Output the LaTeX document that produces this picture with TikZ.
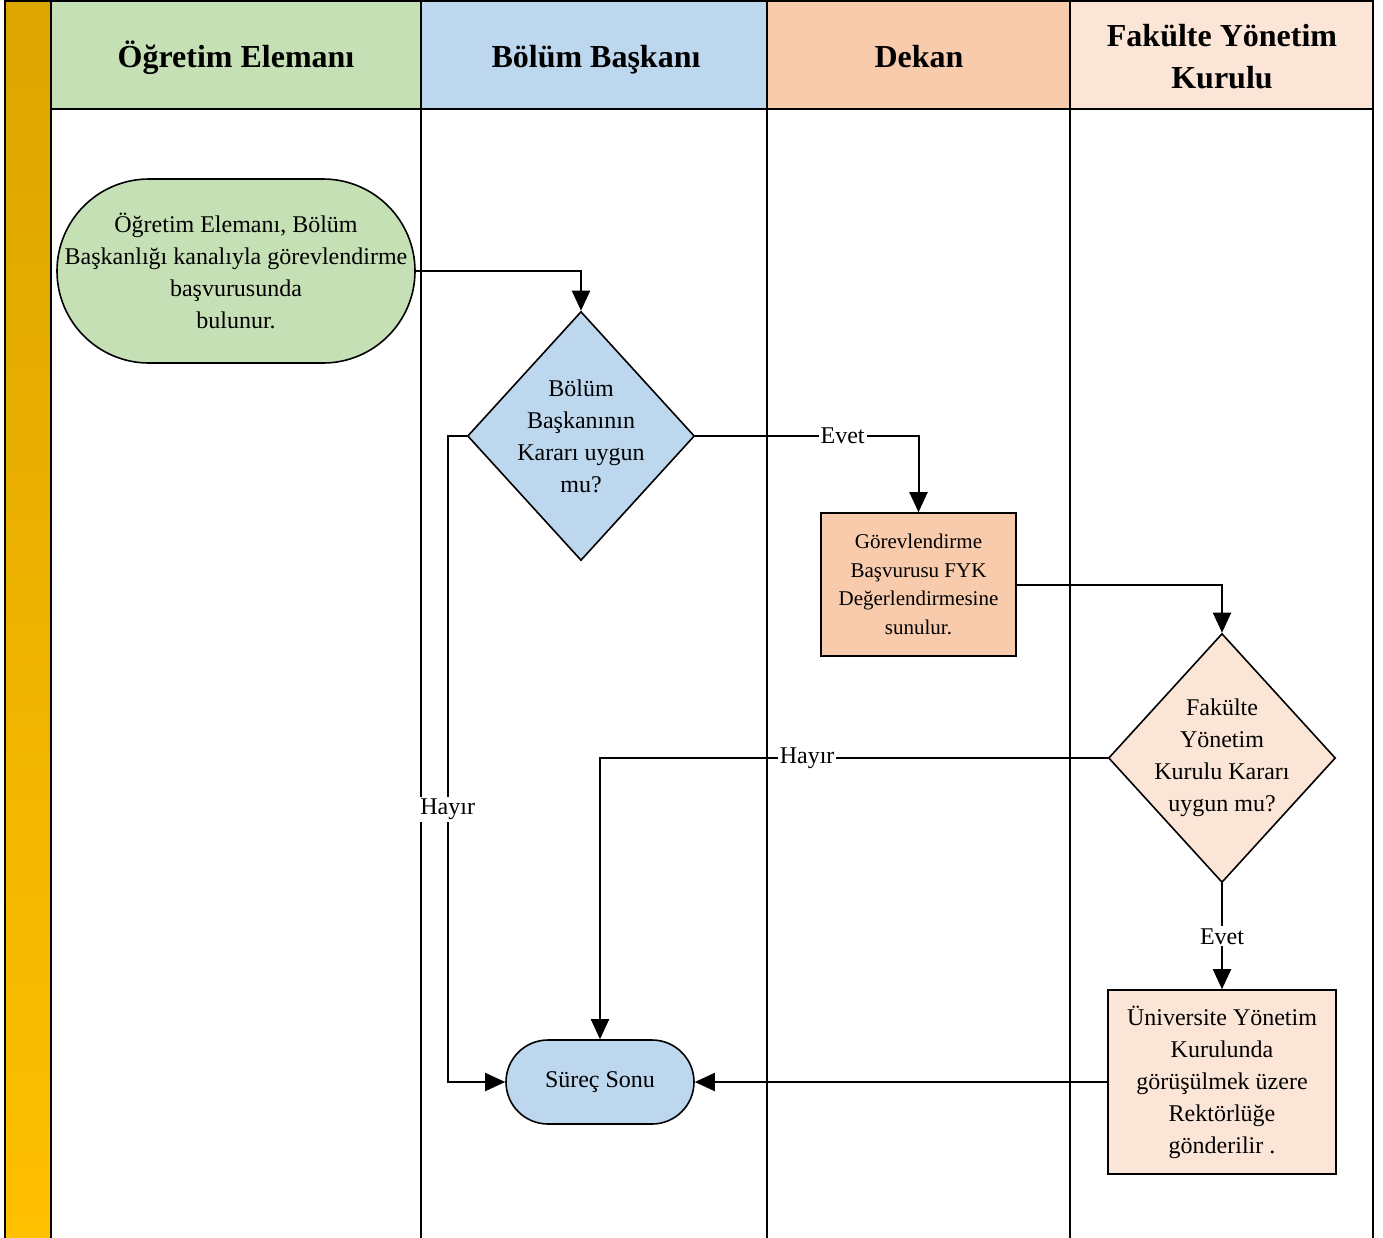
\documentclass[tikz,border=0pt]{standalone}
\usepackage{fontspec}
\setmainfont{Liberation Serif}
\usetikzlibrary{shapes.geometric,arrows.meta}

\definecolor{laneA}{RGB}{197,224,180}
\definecolor{laneB}{RGB}{189,215,238}
\definecolor{laneC}{RGB}{248,203,173}
\definecolor{laneD}{RGB}{251,229,214}
\definecolor{barTop}{RGB}{220,165,0}
\definecolor{barBot}{RGB}{255,192,0}

\tikzset{
  lane/.style={draw=black,line width=1pt},
  head/.style={font=\fontsize{16}{21}\selectfont\bfseries,align=center},
  txt/.style={font=\fontsize{12}{16}\selectfont,align=center},
  flow/.style={draw,line width=1pt,-{Triangle[length=10pt,width=9pt]}},
  lbl/.style={txt,fill=white,inner sep=1pt},
  karar/.style={txt,diamond,draw,line width=0.8pt,aspect=0.91,inner sep=-3pt,
                minimum width=113.5pt,minimum height=124.5pt},
  islem/.style={txt,rectangle,draw,line width=0.8pt},
  uc/.style={txt,rectangle,draw,line width=0.8pt}
}

\begin{document}
\begin{tikzpicture}[x=0.5pt,y=-0.5pt]

   \useasboundingbox (0,0) rectangle (1383,1238);

   % Lanes
   \shade[top color=barTop,bottom color=barBot] (5,0) rectangle (51,1238);
   \fill[laneA] (51,1) rectangle (421,109);
   \fill[laneB] (421,1) rectangle (767,109);
   \fill[laneC] (767,1) rectangle (1070,109);
   \fill[laneD] (1070,1) rectangle (1373,109);
   \draw[lane] (5,1238) -- (5,1) -- (1373,1) -- (1373,1238);
   \draw[lane] (51,109) -- (1373,109);
   \foreach \x in {51,421,767,1070}
       \draw[lane] (\x,1) -- (\x,1238);

   % Lane titles
   \node[head,anchor=base] (tA) at (236,67) {Öğretim Elemanı};
   \node[head,anchor=base] (tB) at (596,67) {Bölüm Başkanı};
   \node[head,anchor=base] (tC) at (919,67) {Dekan};
   \node[head] (tD) at (1222,57) {Fakülte Yönetim\\Kurulu};

   % Steps
   \node[uc,fill=laneA,minimum width=179pt,minimum height=92pt,rounded corners=46pt]
        (basla) at (236,271)
        {Öğretim Elemanı, Bölüm\\Başkanlığı kanalıyla görevlendirme\\başvurusunda\\bulunur.};
   \node[karar,fill=laneB] (bkarar) at (581,436) {Bölüm\\Başkanının\\Kararı uygun\\mu?};
   \node[islem,fill=laneC,minimum width=97.5pt,minimum height=71.5pt,
         font=\fontsize{10.5}{14.25}\selectfont]
        (fyk) at (918.5,584.5)
        {Görevlendirme\\Başvurusu FYK\\Değerlendirmesine\\sunulur.};
   \node[karar,fill=laneD] (fkarar) at (1222,758) {Fakülte\\Yönetim\\Kurulu Kararı\\uygun mu?};
   \node[islem,fill=laneD,minimum width=114pt,minimum height=92pt]
        (uyk) at (1222,1082)
        {Üniversite Yönetim\\Kurulunda\\görüşülmek üzere\\Rektörlüğe\\gönderilir .};
   \node[uc,fill=laneB,minimum width=94pt,minimum height=42pt,rounded corners=21pt]
        (son) at (600,1082) {Süreç Sonu};

   % Connectors
   \draw[flow] (basla.east) -| (bkarar.north);
   \draw[flow] (bkarar.east) -| node[lbl,pos=0.33] {Evet} (fyk.north);
   \draw[flow] (fyk.east) -| (fkarar.north);
   \draw[flow] (fkarar.west) -| node[lbl,pos=0.296] {Hayır} (son.north);
   \draw[flow] (fkarar.south) -- node[lbl] {Evet} (uyk.north);
   \draw[flow] (uyk.west) -- (son.east);
   \draw[flow] (bkarar.west) -- ++(-19,0) |- node[lbl,pos=0.289] {Hayır} (son.west);

\end{tikzpicture}
\end{document}
